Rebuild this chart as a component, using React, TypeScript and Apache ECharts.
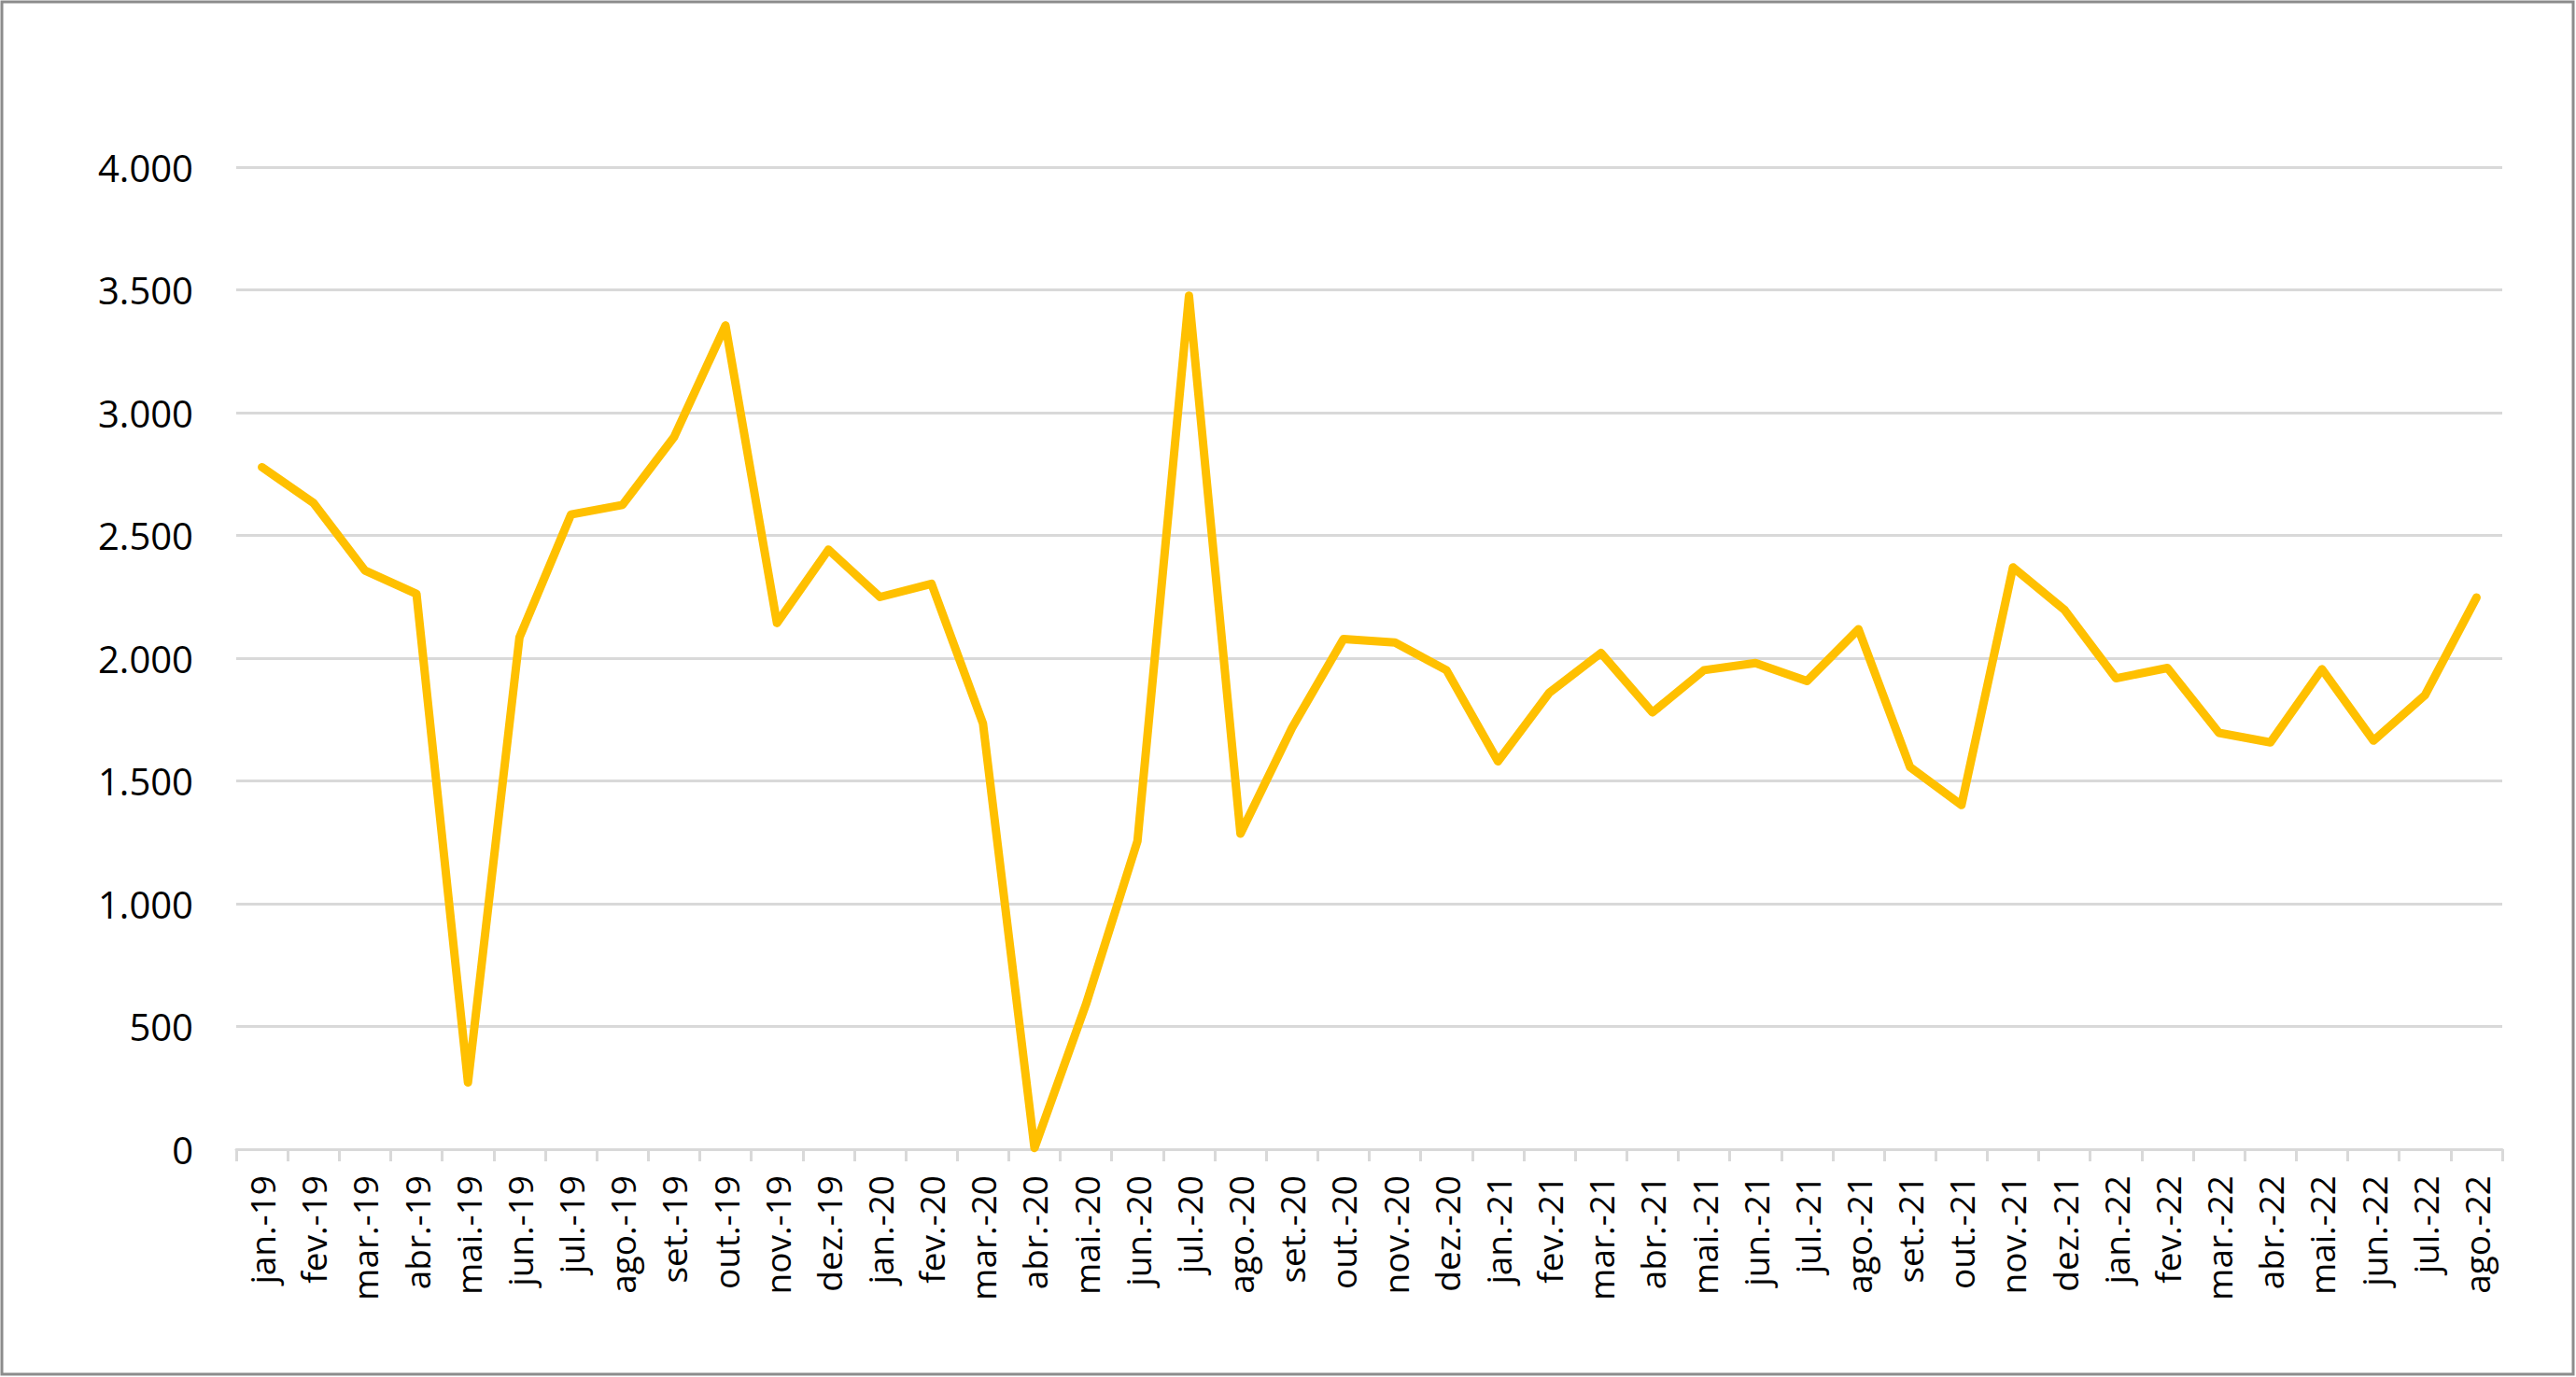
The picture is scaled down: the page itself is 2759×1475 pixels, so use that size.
import React, { useEffect, useRef } from "react";
import * as echarts from "echarts";

const months = [
  "jan.-19", "fev.-19", "mar.-19", "abr.-19", "mai.-19", "jun.-19", "jul.-19", "ago.-19", "set.-19", "out.-19", "nov.-19", "dez.-19",
  "jan.-20", "fev.-20", "mar.-20", "abr.-20", "mai.-20", "jun.-20", "jul.-20", "ago.-20", "set.-20", "out.-20", "nov.-20", "dez.-20",
  "jan.-21", "fev.-21", "mar.-21", "abr.-21", "mai.-21", "jun.-21", "jul.-21", "ago.-21", "set.-21", "out.-21", "nov.-21", "dez.-21",
  "jan.-22", "fev.-22", "mar.-22", "abr.-22", "mai.-22", "jun.-22", "jul.-22", "ago.-22",
];

const values = [
  2778, 2632, 2357, 2262, 272, 2085, 2585, 2624, 2900, 3355, 2143, 2442,
  2249, 2303, 1734, 5, 590, 1255, 3476, 1285, 1716, 2078, 2064, 1951,
  1580, 1860, 2021, 1779, 1951, 1980, 1907, 2118, 1557, 1402, 2370, 2197,
  1918, 1960, 1696, 1657, 1955, 1664, 1849, 2247,
];

const yTicks = { min: 0, max: 4000, interval: 500 };

const fmt = (v: number) => {
  const s = String(Math.round(v));
  return s.replace(/\B(?=(\d{3})+(?!\d))/g, ".");
};

export default function App() {
  const ref = useRef<HTMLDivElement>(null);
  useEffect(() => {
    document.body.style.margin = "0";
    const chart = echarts.init(ref.current!, null, { renderer: "svg" });
    chart.setOption({
      animation: false,
      backgroundColor: "#ffffff",
      textStyle: { fontFamily: "Open Sans" },
      grid: { left: 253, right: 79, top: 179, bottom: 244, containLabel: false },
      graphic: [
        {
          type: "rect",
          shape: { x: 2, y: 2, width: 2754, height: 1470 },
          style: { fill: "none", stroke: "#8c8c8c", lineWidth: 3 },
          silent: true,
        },
      ],
      xAxis: {
        type: "category",
        data: months,
        boundaryGap: true,
        axisLine: { show: true, lineStyle: { color: "#d9d9d9", width: 3 } },
        axisTick: { show: true, length: 13, lineStyle: { color: "#d9d9d9", width: 3 } },
        axisLabel: {
          interval: 0,
          rotate: 90,
          margin: 28,
          color: "#000000",
          fontSize: 37,
          fontFamily: "Open Sans",
        },
        splitLine: { show: false },
      },
      yAxis: {
        type: "value",
        min: yTicks.min,
        max: yTicks.max,
        interval: yTicks.interval,
        axisLine: { show: false },
        axisTick: { show: false },
        axisLabel: {
          margin: 46,
          color: "#000000",
          fontSize: 40,
          fontFamily: "Open Sans",
          formatter: (v: number) => fmt(v),
        },
        splitLine: { show: true, lineStyle: { color: "#d9d9d9", width: 3 } },
      },
      series: [
        {
          type: "line",
          data: values,
          symbol: "none",
          lineStyle: { color: "#ffc000", width: 9, join: "round", cap: "round" },
          itemStyle: { color: "#ffc000" },
        },
      ],
    });
    return () => chart.dispose();
  }, []);
  return (
    <div
      ref={ref}
      style={{ position: "absolute", left: 0, top: 0, width: 2759, height: 1475 }}
    />
  );
}
